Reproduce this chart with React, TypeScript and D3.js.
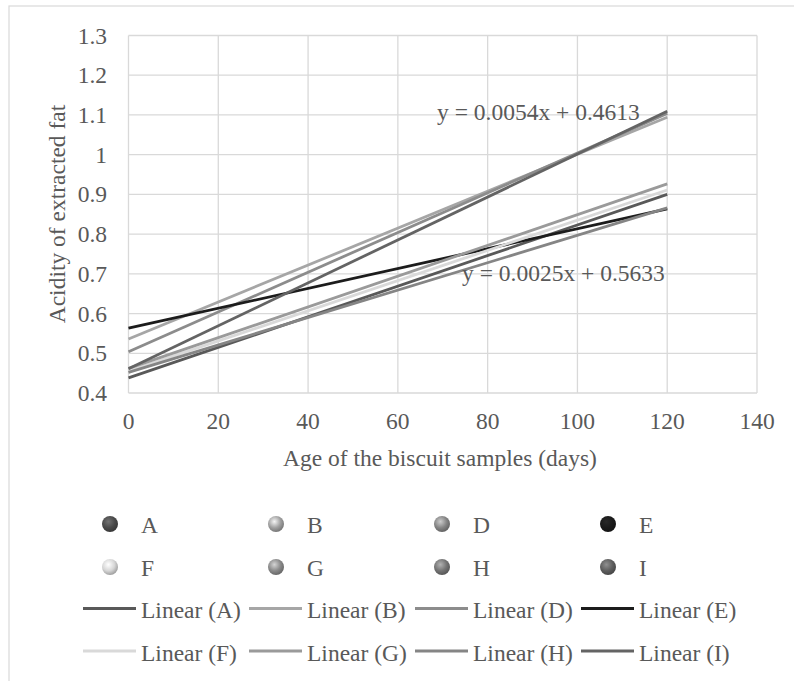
import React from "react";
import * as d3 from "d3";

const seriesNames = ["A", "B", "D", "E", "F", "G", "H", "I"];
const intercepts = [0.438, 0.536, 0.504, 0.5633, 0.455, 0.462, 0.452, 0.4613];
const slopes = [0.00385, 0.00465, 0.005, 0.0025, 0.0038, 0.00387, 0.00345, 0.0054];
const lineColors = ["#595959", "#a6a6a6", "#8c8c8c", "#1c1c1c", "#d9d9d9", "#9a9a9a", "#858585", "#646464"];
const markerColors = ["#4a4a4a", "#a0a0a0", "#858585", "#1a1a1a", "#d6d6d6", "#8a8a8a", "#747474", "#5e5e5e"];
const xTicks = [0, 20, 40, 60, 80, 100, 120, 140];
const yTicks = [0.4, 0.5, 0.6, 0.7, 0.8, 0.9, 1.0, 1.1, 1.2, 1.3];
const xRange = [0, 120];
const equations = [
  { text: "y = 0.0054x + 0.4613", x: 437, y: 120 },
  { text: "y = 0.0025x + 0.5633", x: 462, y: 281 },
];

const FONT = "'Liberation Serif', 'Times New Roman', serif";
const TXT = "#595959";
const FS = 23.5;

export default function App() {
  const left = 128.5, right = 757, top = 35.5, bottom = 393;
  const x = d3.scaleLinear().domain([0, 140]).range([left, right]);
  const y = d3.scaleLinear().domain([0.4, 1.3]).range([bottom, top]);

  return (
    <svg width={794} height={681} style={{ position: "absolute", left: 0, top: 0, background: "#fff" }} fontFamily={FONT}>
      <defs>
        {markerColors.map((c, i) => (
          <radialGradient key={i} id={`g${i}`} cx="40%" cy="35%" r="65%">
            <stop offset="0%" stopColor={d3.color(c)!.brighter(1.2).formatHex()} />
            <stop offset="60%" stopColor={c} />
            <stop offset="100%" stopColor={d3.color(c)!.darker(0.8).formatHex()} />
          </radialGradient>
        ))}
      </defs>
      <rect x={9} y={6} width={800} height={700} fill="#fff" stroke="#d9d9d9" strokeWidth={1.2} />
      {xTicks.map((t) => (
        <line key={"gx" + t} x1={x(t)} x2={x(t)} y1={top} y2={bottom} stroke="#d9d9d9" strokeWidth={1.3} />
      ))}
      {yTicks.map((t) => (
        <line key={"gy" + t} x1={left} x2={right} y1={y(t)} y2={y(t)} stroke="#d9d9d9" strokeWidth={1.3} />
      ))}
      {yTicks.map((t) => (
        <text key={"ty" + t} x={107} y={y(t) + 8} textAnchor="end" fontSize={FS} fill={TXT}>
          {String(Math.round(t * 10) / 10)}
        </text>
      ))}
      {xTicks.map((t) => (
        <text key={"tx" + t} x={x(t)} y={429} textAnchor="middle" fontSize={FS} fill={TXT}>
          {t}
        </text>
      ))}
      <text x={283} y={466} fontSize={FS} fill={TXT}>
        Age of the biscuit samples (days)
      </text>
      <text transform={`translate(65,214) rotate(-90)`} textAnchor="middle" fontSize={FS} fill={TXT}>
        Acidity of extracted fat
      </text>
      {seriesNames.map((n, i) => {
        const path = d3
          .line<number>()
          .x((d) => x(d))
          .y((d) => y(intercepts[i] + slopes[i] * d))(xRange);
        return <path key={"l" + n} d={path!} fill="none" stroke={lineColors[i]} strokeWidth={2.8} />;
      })}
      {equations.map((e) => (
        <text key={e.text} x={e.x} y={e.y} fontSize={FS} fill={TXT}>
          {e.text}
        </text>
      ))}
      {seriesNames.map((n, i) => {
        const col = i % 4, row = Math.floor(i / 4);
        const cx = 110 + col * 166, cy = 524 + row * 43;
        return (
          <g key={"m" + n}>
            <circle cx={cx} cy={cy} r={8} fill={`url(#g${i})`} />
            <text x={cx + 31} y={cy + 9} fontSize={FS} fill={TXT}>{n}</text>
          </g>
        );
      })}
      {seriesNames.map((n, i) => {
        const col = i % 4, row = Math.floor(i / 4);
        const x0 = 83 + col * 166, cy = 608.5 + row * 42.5;
        return (
          <g key={"ll" + n}>
            <line x1={x0} x2={x0 + 53} y1={cy} y2={cy} stroke={lineColors[i]} strokeWidth={3} />
            <text x={x0 + 58} y={cy + 9.5} fontSize={FS} fill={TXT}>{`Linear (${n})`}</text>
          </g>
        );
      })}
    </svg>
  );
}
